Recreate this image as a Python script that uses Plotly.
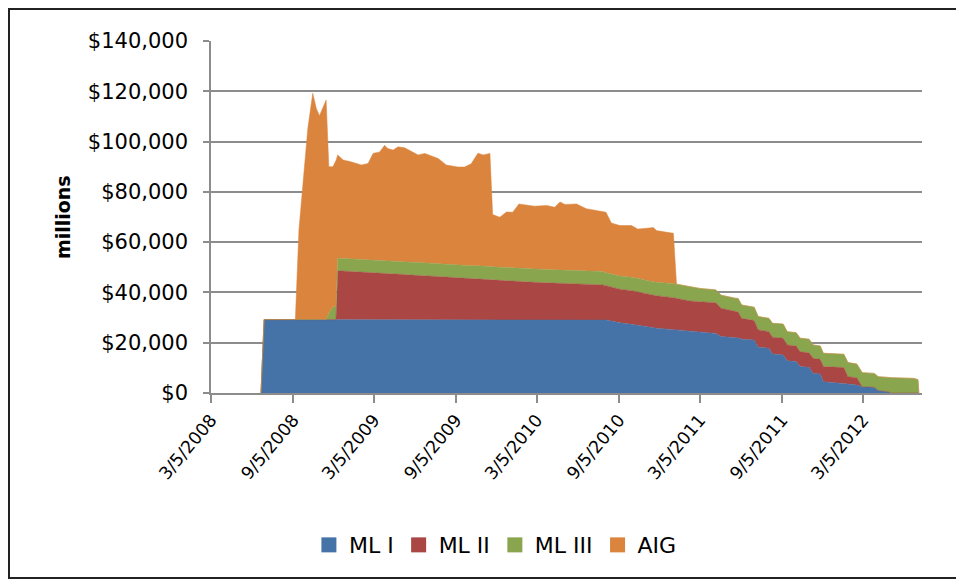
import plotly.graph_objects as go

dates = [
    "2008-06-25", "2008-07-02", "2008-09-10", "2008-09-18", "2008-09-30", "2008-10-08",
    "2008-10-19", "2008-10-27", "2008-11-03", "2008-11-18", "2008-11-24", "2008-12-03",
    "2008-12-10", "2008-12-14", "2008-12-26", "2009-01-12", "2009-02-05", "2009-02-20",
    "2009-03-03", "2009-03-18", "2009-03-29", "2009-04-05", "2009-04-17", "2009-04-28",
    "2009-05-13", "2009-05-28", "2009-06-12", "2009-06-27", "2009-07-12", "2009-07-27",
    "2009-08-14", "2009-09-09", "2009-09-24", "2009-10-09", "2009-10-24", "2009-11-05",
    "2009-11-20", "2009-11-26", "2009-12-12", "2009-12-27", "2010-01-10", "2010-01-24",
    "2010-02-28", "2010-03-27", "2010-04-14", "2010-04-26", "2010-05-07", "2010-06-02",
    "2010-06-24", "2010-07-31", "2010-08-07", "2010-08-19", "2010-09-07", "2010-10-03",
    "2010-10-17", "2010-11-06", "2010-11-21", "2010-11-28", "2011-01-05", "2011-01-12",
    "2011-02-11", "2011-03-05", "2011-04-10", "2011-04-22", "2011-05-23", "2011-05-30",
    "2011-06-07", "2011-07-05", "2011-07-14", "2011-08-07", "2011-08-15", "2011-09-08",
    "2011-09-17", "2011-10-07", "2011-10-16", "2011-11-05", "2011-11-14", "2011-11-30",
    "2011-12-07", "2012-01-22", "2012-01-31", "2012-02-20", "2012-03-03", "2012-03-30",
    "2012-04-08", "2012-04-30", "2012-05-07", "2012-06-27", "2012-07-06", "2012-07-08",
]

ml1 = [
    0, 29200, 29200, 29200, 29200, 29200,
    29200, 29200, 29200, 29200, 29200, 29200,
    29200, 29200, 29200, 29200, 29200, 29200,
    29200, 29200, 29200, 29200, 29200, 29200,
    29200, 29200, 29200, 29200, 29200, 29200,
    29200, 29200, 29200, 29200, 29200, 29200,
    29200, 29200, 29200, 29200, 29200, 29200,
    29200, 29200, 29200, 29200, 29200, 29200,
    29200, 29100, 29000, 28600, 27900, 27300,
    27000, 26500, 26000, 25800, 25200, 25100,
    24400, 24000, 23700, 22500, 22000, 21900,
    21400, 21100, 18200, 17800, 15500, 15100,
    12800, 12500, 10500, 10200, 7800, 7600,
    4500, 3900, 3600, 3200, 2500, 2300,
    1000, 500, 0, 0, 0, 0,
]

ml2 = [
    0, 0, 0, 0, 0, 0,
    0, 0, 0, 0, 0, 0,
    0, 19400, 19300, 19100, 18900, 18700,
    18600, 18400, 18300, 18200, 18100, 18000,
    17900, 17700, 17600, 17400, 17300, 17100,
    16900, 16600, 16500, 16300, 16200, 16000,
    15900, 15800, 15600, 15500, 15300, 15200,
    14800, 14600, 14500, 14500, 14400, 14300,
    14100, 13900, 13700, 13500, 13400, 13400,
    13200, 12800, 12900, 12900, 12700, 12500,
    12200, 12300, 12200, 11200, 10300, 10300,
    8300, 7700, 6900, 6600, 6700, 6700,
    6300, 6200, 5900, 5800, 6000, 5800,
    6000, 6200, 2900, 2900, 0, 0,
    0, 0, 0, 0, 0, 0,
]

ml3 = [
    0, 0, 0, 0, 0, 0,
    0, 0, 0, 0, 2400, 5100,
    5100, 5000, 5000, 5000, 5000, 5000,
    5000, 5000, 5000, 5000, 5000, 5000,
    5000, 5100, 5100, 5100, 5100, 5100,
    5100, 5100, 5100, 5100, 5200, 5200,
    5200, 5200, 5200, 5200, 5200, 5200,
    5300, 5300, 5300, 5300, 5300, 5300,
    5300, 5300, 5100, 5200, 5200, 5300,
    5400, 5400, 5300, 5300, 5600, 5700,
    5600, 5300, 5100, 5200, 5400, 5400,
    5300, 5300, 5300, 5300, 5500, 5600,
    5300, 5300, 5400, 5400, 5300, 5300,
    5300, 5300, 5600, 5400, 5600, 5500,
    5500, 5700, 6100, 5800, 5300, 0,
]

aig = [
    0, 0, 0, 35600, 60000, 76100,
    90000, 84000, 81100, 87300, 58400, 55700,
    58200, 41100, 39200, 38700, 37600, 38400,
    42500, 43300, 46000, 44800, 44300, 45700,
    45400, 44000, 42800, 43600, 42800, 41900,
    39500, 39000, 39100, 40600, 44800, 44300,
    45000, 20800, 19900, 22100, 22200, 25600,
    25000, 25500, 24900, 27000, 26100, 26400,
    24700, 23600, 24100, 20300, 20100, 20600,
    19600, 20800, 21600, 20600, 20000, 0,
    0, 0, 0, 0, 0, 0,
    0, 0, 0, 0, 0, 0,
    0, 0, 0, 0, 0, 0,
    0, 0, 0, 0, 0, 0,
    0, 0, 0, 0, 0, 0,
]

series_names = ["ML I", "ML II", "ML III", "AIG"]
series_colors = ["#4572A7", "#AA4643", "#89A54E", "#DB843D"]

x_tick_vals = ["2008-03-05", "2008-09-05", "2009-03-05", "2009-09-05", "2010-03-05",
               "2010-09-05", "2011-03-05", "2011-09-05", "2012-03-05"]
x_tick_text = ["3/5/2008", "9/5/2008", "3/5/2009", "9/5/2009", "3/5/2010",
               "9/5/2010", "3/5/2011", "9/5/2011", "3/5/2012"]
y_tick_vals = [0, 20000, 40000, 60000, 80000, 100000, 120000, 140000]
y_tick_text = ["$0", "$20,000", "$40,000", "$60,000", "$80,000", "$100,000", "$120,000", "$140,000"]

FONT = "DejaVu Sans"
GRID = "#8c8c8c"

fig = go.Figure()
for name, vals, col in zip(series_names, [ml1, ml2, ml3, aig], series_colors):
    fig.add_trace(go.Scatter(
        x=dates, y=vals, name=name, mode="lines", stackgroup="one",
        line=dict(width=0.5, color=col), fillcolor=col, showlegend=False,
        hoverinfo="skip",
    ))
for name, col in zip(series_names, series_colors):
    fig.add_trace(go.Scatter(
        x=[None], y=[None], name=name, mode="markers",
        marker=dict(symbol="square", size=15, color=col), showlegend=True,
    ))

# the page body has an 8px margin, so the figure is sized and placed to compensate
fig.update_layout(
    width=956, height=573,
    margin=dict(l=203, r=42, t=33, b=188, autoexpand=False),
    paper_bgcolor="white", plot_bgcolor="white",
    font=dict(family=FONT, size=20, color="black"),
    showlegend=True,
    legend=dict(orientation="h", traceorder="normal", x=0.40, xanchor="center",
                y=-0.432, yanchor="middle",
                font=dict(family=FONT, size=22, color="black"), bgcolor="rgba(0,0,0,0)"),
    xaxis=dict(
        type="date", range=["2008-03-05", "2012-07-15"], automargin=False,
        tickvals=x_tick_vals, ticktext=x_tick_text, tickangle=-50,
        ticks="outside", ticklen=8, tickwidth=1.5, tickcolor=GRID,
        showline=True, linecolor=GRID, linewidth=1.5,
        showgrid=False, zeroline=False,
        tickfont=dict(family=FONT, size=17.5, color="black"),
    ),
    yaxis=dict(
        range=[0, 140000], tickvals=y_tick_vals, ticktext=y_tick_text, automargin=False,
        ticks="outside", ticklen=6, tickwidth=1.5, tickcolor=GRID,
        showline=True, linecolor=GRID, linewidth=1.5,
        showgrid=True, gridcolor=GRID, gridwidth=1.5, zeroline=False,
        ticklabelstandoff=11,
        tickfont=dict(family=FONT, size=21, color="black"),
    ),
    annotations=[dict(
        text="<b>millions</b>", xref="paper", yref="paper", x=-0.208, y=0.5,
        textangle=-90, showarrow=False, xanchor="center", yanchor="middle",
        font=dict(family=FONT, size=19, color="black"),
    )],
    shapes=[dict(
        type="rect", xref="paper", yref="paper",
        x0=-0.2841, x1=1.3, y0=-0.5256, y1=1.0909,
        line=dict(color="#222222", width=2), fillcolor="rgba(0,0,0,0)", layer="below",
    )],
)

fig.write_html("out.html")
